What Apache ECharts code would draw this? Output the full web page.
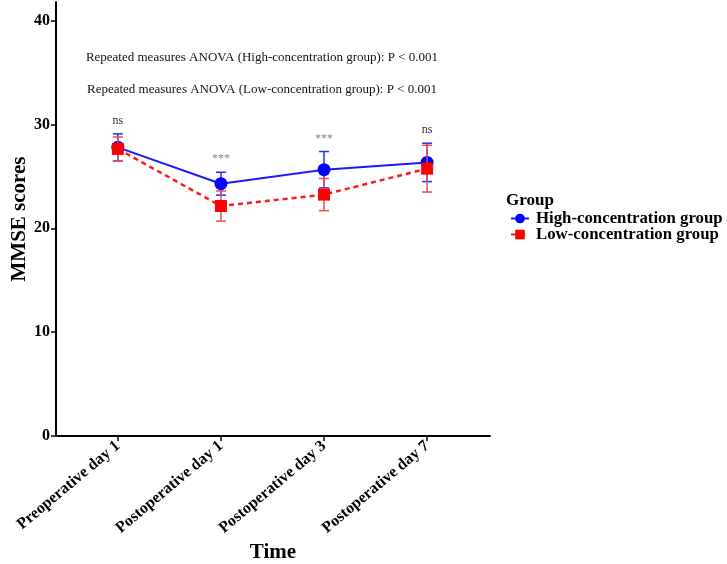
<!DOCTYPE html>
<html>
<head>
<meta charset="utf-8">
<script src="https://cdn.jsdelivr.net/npm/echarts@6/dist/echarts.min.js"></script>
<style>html,body{margin:0;padding:0;background:#fff}#c{width:727px;height:564px}</style>
</head>
<body>
<div id="c"></div>
<script>
const categories = ['Preoperative day 1', 'Postoperative day 1', 'Postoperative day 3', 'Postoperative day 7'];
const highMean = [27.8, 24.3, 25.65, 26.35];
const highSD = [1.3, 1.1, 1.75, 1.85];
const lowMean = [27.65, 22.15, 23.25, 25.75];
const lowSD = [1.15, 1.45, 1.55, 2.25];
const sigLabels = ['ns', '***', '***', 'ns'];
const yTicks = [0, 10, 20, 30, 40];
const anovaTexts = [
  'Repeated measures ANOVA (High-concentration group): P < 0.001',
  'Repeated measures ANOVA (Low-concentration group): P < 0.001'
];
const seriesNames = ['High-concentration group', 'Low-concentration group'];

const FONT = 'Liberation Serif';
const idx = categories.map((c, i) => i);

function errData(mean, sd) {
  return mean.map((m, i) => [i, m - sd[i], m + sd[i]]);
}
function errSeries(mean, sd, color, z) {
  return {
    type: 'custom', silent: true, z: z,
    data: errData(mean, sd),
    renderItem: function (params, api) {
      const x = api.value(0);
      const lo = api.coord([x, api.value(1)]);
      const hi = api.coord([x, api.value(2)]);
      const w = 5;
      const st = { stroke: color, lineWidth: 1.5 };
      return {
        type: 'group',
        children: [
          { type: 'line', shape: { x1: lo[0], y1: lo[1], x2: hi[0], y2: hi[1] }, style: st },
          { type: 'line', shape: { x1: lo[0] - w, y1: lo[1], x2: lo[0] + w, y2: lo[1] }, style: st },
          { type: 'line', shape: { x1: hi[0] - w, y1: hi[1], x2: hi[0] + w, y2: hi[1] }, style: st }
        ]
      };
    }
  };
}

const sigData = idx.map(i => [i, Math.max(highMean[i] + highSD[i], lowMean[i] + lowSD[i]), sigLabels[i]]);

const chart = echarts.init(document.getElementById('c'));
chart.setOption({
  animation: false,
  grid: { left: 56, right: 237, top: 2, bottom: 128, containLabel: false, outerBoundsMode: 'none' },
  xAxis: {
    type: 'value', min: -0.6, max: 3.61,
    name: 'Time', nameLocation: 'middle', nameGap: 106, nameMoveOverlap: false,
    nameTextStyle: { fontFamily: FONT, fontWeight: 'bold', fontSize: 21, color: '#000' },
    axisLine: { show: true, onZero: false, lineStyle: { color: '#000', width: 2 } },
    axisTick: { show: true, length: 5, lineStyle: { color: '#000', width: 1.5 }, customValues: idx },
    axisLabel: {
      customValues: idx, rotate: 40, margin: 8,
      fontFamily: FONT, fontWeight: 'bold', fontSize: 16, color: '#000',
      formatter: v => categories[Math.round(v)]
    },
    splitLine: { show: false }
  },
  yAxis: {
    type: 'value', min: 0, max: 41.8,
    name: 'MMSE scores', nameLocation: 'middle', nameGap: 26, nameRotate: 90, nameMoveOverlap: false,
    nameTextStyle: { fontFamily: FONT, fontWeight: 'bold', fontSize: 21, color: '#000' },
    axisLine: { show: true, onZero: false, lineStyle: { color: '#000', width: 2 } },
    axisTick: { show: true, length: 5, lineStyle: { color: '#000', width: 1.5 }, customValues: yTicks },
    axisLabel: { customValues: yTicks, margin: 6, fontFamily: FONT, fontWeight: 'bold', fontSize: 16, color: '#000' },
    splitLine: { show: false }
  },
  legend: {
    orient: 'vertical', left: 505, top: 205, itemGap: -1,
    itemWidth: 18, itemHeight: 12,
    textStyle: { fontFamily: FONT, fontWeight: 'bold', fontSize: 16.8, color: '#000', padding: [0, 0, 0, 2] },
    data: seriesNames
  },
  graphic: [
    { type: 'text', left: 506, top: 192, style: { text: 'Group', font: 'bold 17px "Liberation Serif"', fill: '#000' } },
    { type: 'text', x: 262, y: 58, style: { text: anovaTexts[0], font: '13px "Liberation Serif"', fill: '#111', textAlign: 'center', textVerticalAlign: 'middle' } },
    { type: 'text', x: 262, y: 90, style: { text: anovaTexts[1], font: '13px "Liberation Serif"', fill: '#111', textAlign: 'center', textVerticalAlign: 'middle' } }
  ],
  series: [
    errSeries(highMean, highSD, '#2a2aff', 2),
    {
      name: seriesNames[0], type: 'line', z: 3,
      data: idx.map(i => [i, highMean[i]]),
      symbol: 'circle', symbolSize: 13,
      itemStyle: { color: '#0000ff' },
      lineStyle: { color: '#1a1aff', width: 2 }
    },
    errSeries(lowMean, lowSD, '#e85050', 4),
    {
      name: seriesNames[1], type: 'line', z: 5,
      data: idx.map(i => [i, lowMean[i]]),
      symbol: 'rect', symbolSize: 12,
      itemStyle: { color: '#ff0000' },
      lineStyle: { color: '#ff1a1a', width: 2.5, type: [5, 4] }
    },
    {
      type: 'custom', silent: true, z: 6,
      data: sigData,
      renderItem: function (params, api) {
        const p = api.coord([api.value(0), api.value(1)]);
        return {
          type: 'text',
          style: {
            x: p[0], y: p[1] - 13, text: sigLabels[params.dataIndex],
            textAlign: 'center', textVerticalAlign: 'middle',
            font: '12px "Liberation Serif"', fill: sigLabels[params.dataIndex] === 'ns' ? '#333' : '#888'
          }
        };
      }
    }
  ]
});
</script>
</body>
</html>
